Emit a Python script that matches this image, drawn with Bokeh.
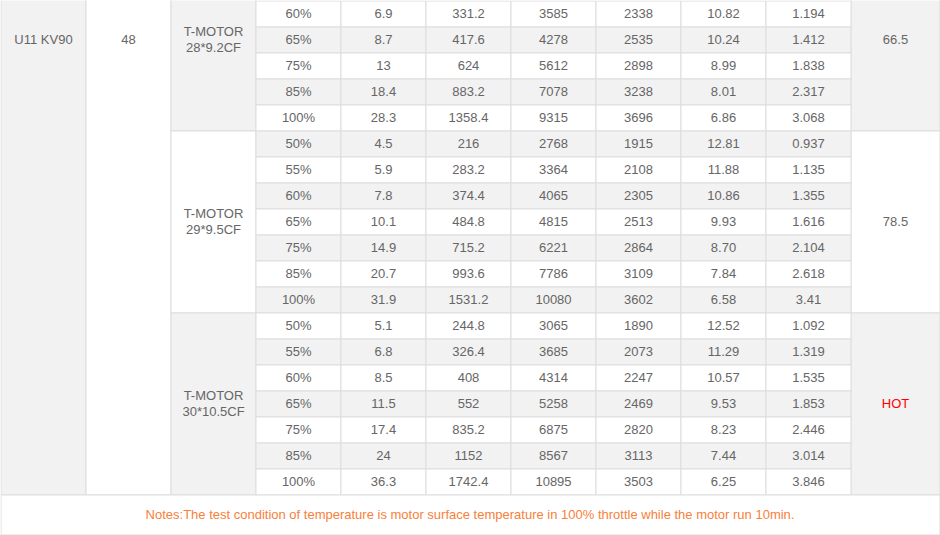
from bokeh.plotting import figure
from bokeh.models import ColumnDataSource, Range1d
from bokeh.core.properties import value
from bokeh.embed import file_html
from bokeh.resources import INLINE

# ---------------- data ----------------
motor = "U11 KV90"
voltage = "48"
props = ["T-MOTOR\n28*9.2CF", "T-MOTOR\n29*9.5CF", "T-MOTOR\n30*10.5CF"]
temps = ["66.5", "78.5", "HOT"]

throttle_1 = ["60%", "65%", "75%", "85%", "100%"]
current_1 = ["6.9", "8.7", "13", "18.4", "28.3"]
power_1 = ["331.2", "417.6", "624", "883.2", "1358.4"]
thrust_1 = ["3585", "4278", "5612", "7078", "9315"]
rpm_1 = ["2338", "2535", "2898", "3238", "3696"]
eff_1 = ["10.82", "10.24", "8.99", "8.01", "6.86"]
torque_1 = ["1.194", "1.412", "1.838", "2.317", "3.068"]

throttle_2 = ["50%", "55%", "60%", "65%", "75%", "85%", "100%"]
current_2 = ["4.5", "5.9", "7.8", "10.1", "14.9", "20.7", "31.9"]
power_2 = ["216", "283.2", "374.4", "484.8", "715.2", "993.6", "1531.2"]
thrust_2 = ["2768", "3364", "4065", "4815", "6221", "7786", "10080"]
rpm_2 = ["1915", "2108", "2305", "2513", "2864", "3109", "3602"]
eff_2 = ["12.81", "11.88", "10.86", "9.93", "8.70", "7.84", "6.58"]
torque_2 = ["0.937", "1.135", "1.355", "1.616", "2.104", "2.618", "3.41"]

throttle_3 = ["50%", "55%", "60%", "65%", "75%", "85%", "100%"]
current_3 = ["5.1", "6.8", "8.5", "11.5", "17.4", "24", "36.3"]
power_3 = ["244.8", "326.4", "408", "552", "835.2", "1152", "1742.4"]
thrust_3 = ["3065", "3685", "4314", "5258", "6875", "8567", "10895"]
rpm_3 = ["1890", "2073", "2247", "2469", "2820", "3113", "3503"]
eff_3 = ["12.52", "11.29", "10.57", "9.53", "8.23", "7.44", "6.25"]
torque_3 = ["1.092", "1.319", "1.535", "1.853", "2.446", "3.014", "3.846"]

note = ("Notes:The test condition of temperature is motor surface temperature "
        "in 100% throttle while the motor run 10min.")

# ---------------- layout ----------------
ROW_H = 26
COL_W = 85
TABLE_W = 939
ROWS_PER_GROUP = 7
HIDDEN_ROWS = 2          # rows of the first group above the visible area
TOP = -HIDDEN_ROWS * ROW_H
NOTE_H = 40
GRAY = "#f2f2f2"
WHITE = "#ffffff"
BORDER = "#dddddd"
TXT = "#666666"
FONT = value("Liberation Sans")
FSIZE = "13px"
DY = -0.5   # small vertical nudge for text

groups = [
    [throttle_1, current_1, power_1, thrust_1, rpm_1, eff_1, torque_1],
    [throttle_2, current_2, power_2, thrust_2, rpm_2, eff_2, torque_2],
    [throttle_3, current_3, power_3, thrust_3, rpm_3, eff_3, torque_3],
]

col_left = [i * COL_W + 0.5 for i in range(11)]
col_right = [(i + 1) * COL_W + 0.5 for i in range(11)]
col_right[10] = TABLE_W + 0.5

cells = dict(left=[], right=[], top=[], bottom=[], fill=[])
texts = dict(x=[], y=[], text=[], color=[])


def add_cell(c0, c1, y0, y1, fill):
    cells["left"].append(col_left[c0])
    cells["right"].append(col_right[c1])
    cells["top"].append(y0 + 0.5)
    cells["bottom"].append(y1 + 0.5)
    cells["fill"].append(fill)


def add_text(x, y, t, color=TXT):
    texts["x"].append(x)
    texts["y"].append(y + DY)
    texts["text"].append(t)
    texts["color"].append(color)


table_bottom = TOP + 3 * ROWS_PER_GROUP * ROW_H
g1_center = TOP + ROWS_PER_GROUP * ROW_H / 2

# spanning motor / voltage cells
add_cell(0, 0, TOP - 400, table_bottom, GRAY)
add_cell(1, 1, TOP - 400, table_bottom, WHITE)
add_text((col_left[0] + col_right[0]) / 2, g1_center, motor)
add_text((col_left[1] + col_right[1]) / 2, g1_center, voltage)

for g, cols in enumerate(groups):
    g_top = TOP + g * ROWS_PER_GROUP * ROW_H
    g_bot = g_top + ROWS_PER_GROUP * ROW_H
    g_mid = (g_top + g_bot) / 2
    gfill = GRAY if g % 2 == 0 else WHITE
    add_cell(2, 2, g_top, g_bot, gfill)
    add_cell(10, 10, g_top, g_bot, gfill)
    l1, l2 = props[g].split("\n")
    cx2 = (col_left[2] + col_right[2]) / 2
    add_text(cx2, g_mid - 8, l1)
    add_text(cx2, g_mid + 8, l2)
    add_text((col_left[10] + col_right[10]) / 2, g_mid,
             temps[g], "#ff0000" if temps[g] == "HOT" else TXT)
    n = len(cols[0])
    first = ROWS_PER_GROUP - n
    for k in range(n):
        r = g * ROWS_PER_GROUP + first + k
        y0 = TOP + r * ROW_H
        fill = WHITE if r % 2 == 0 else GRAY
        for j, col in enumerate(cols):
            add_cell(3 + j, 3 + j, y0, y0 + ROW_H, fill)
            add_text((col_left[3 + j] + col_right[3 + j]) / 2, y0 + ROW_H / 2, col[k])

# notes row
add_cell(0, 10, table_bottom, table_bottom + NOTE_H, WHITE)
add_text(TABLE_W / 2, table_bottom + NOTE_H / 2, note, "#f8803a")

# ---------------- figure ----------------
W, H = 940, 535
p = figure(width=W, height=H, output_backend="svg", toolbar_location=None,
           x_range=Range1d(0, W), y_range=Range1d(H, 0),
           min_border=0, outline_line_color=None)
p.axis.visible = False
p.grid.visible = False
p.background_fill_color = WHITE
p.border_fill_color = WHITE

cs = ColumnDataSource(cells)
p.quad(left="left", right="right", top="top", bottom="bottom", source=cs,
       fill_color="fill", line_color=BORDER, line_width=1)

ts = ColumnDataSource(texts)
p.text(x="x", y="y", text="text", source=ts, text_color="color",
       text_font=FONT, text_font_size=FSIZE, text_align="center",
       text_baseline="middle")

with open("out.html", "w") as f:
    f.write(file_html(p, INLINE))
